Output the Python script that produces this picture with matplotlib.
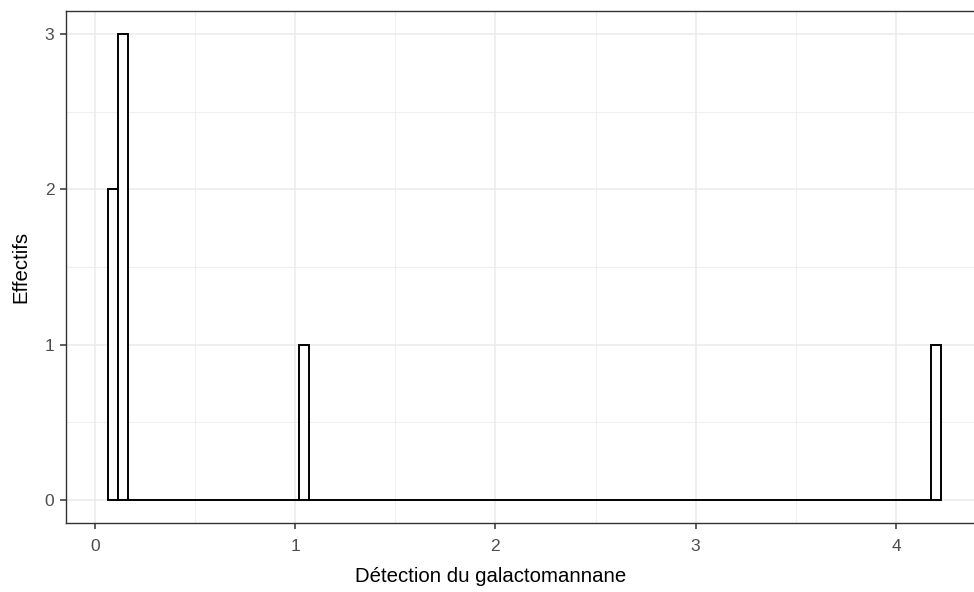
import numpy as np
import matplotlib
matplotlib.use('Agg')
import matplotlib.pyplot as plt

values = [0.09, 0.11, 0.13, 0.14, 0.16, 1.05, 4.2]
binwidth = 0.05
x_ticks = [0, 1, 2, 3, 4]
y_ticks = [0, 1, 2, 3]

plt.rcParams['font.family'] = ['Liberation Sans', 'DejaVu Sans']

W, H = 974, 592
fig = plt.figure(figsize=(W / 100, H / 100), dpi=100)
left, right, top, bottom = 66.1, 982.7, 10.7, 523.3
ax = fig.add_axes([left / W, 1 - bottom / H, (right - left) / W, (bottom - top) / H])

lo = min(values) - binwidth / 2
hi = max(values) + binwidth / 2
nb = int(round((hi - lo) / binwidth))
edges = np.linspace(lo, hi, nb + 1)

ax.hist(values, bins=edges, facecolor='white', edgecolor='black',
        linewidth=1.4, zorder=3)

span = hi - lo
ax.set_xlim(lo - 0.05 * span, hi + 0.05 * span)
ax.set_ylim(-0.15, 3.15)

ax.set_xticks(x_ticks)
ax.set_yticks(y_ticks)
ax.set_xticks([0.5, 1.5, 2.5, 3.5], minor=True)
ax.set_yticks([0.5, 1.5, 2.5], minor=True)
ax.grid(which='major', color='#EBEBEB', linewidth=1.1, zorder=0)
ax.grid(which='minor', color='#EBEBEB', linewidth=0.55, zorder=0)
ax.set_axisbelow(True)

ax.tick_params(which='major', length=4.5, width=1.1, color='#333333',
               labelcolor='#4D4D4D', labelsize=12.5)
ax.tick_params(axis='x', pad=7)
ax.tick_params(axis='y', pad=4)
ax.tick_params(which='minor', length=0)
for s in ax.spines.values():
    s.set_color('#333333')
    s.set_linewidth(1.0)

ax.set_xlabel('Détection du galactomannane', fontsize=14.7, color='black', labelpad=9)
ax.xaxis.label.set_x((490.5 - left) / (right - left))
ax.set_ylabel('Effectifs', fontsize=14.7, color='black', labelpad=10)

fig.savefig('out.png', dpi=100)
